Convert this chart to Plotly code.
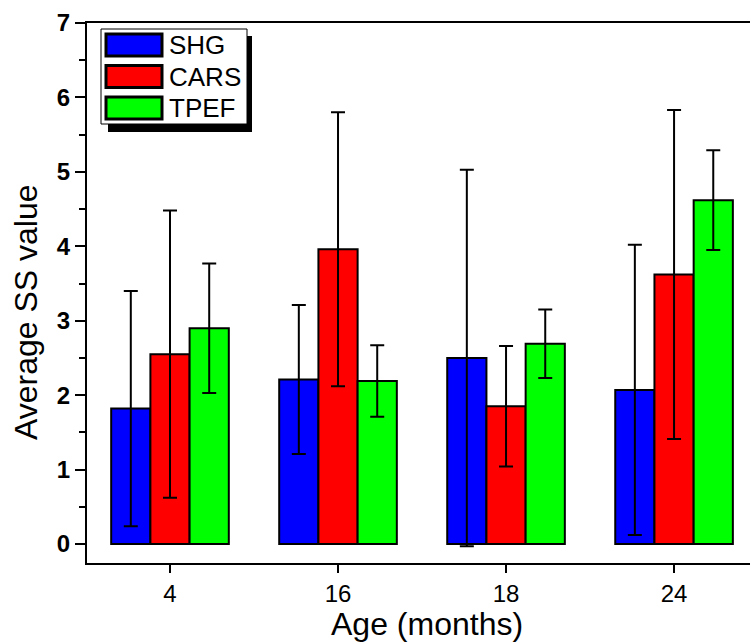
import plotly.graph_objects as go

# ---- data ----
ages = ["4", "16", "18", "24"]
series_names = ["SHG", "CARS", "TPEF"]
shg_mean = [1.82, 2.21, 2.50, 2.07]
shg_err = [1.58, 1.00, 2.53, 1.95]
cars_mean = [2.55, 3.96, 1.85, 3.62]
cars_err = [1.93, 1.84, 0.81, 2.21]
tpef_mean = [2.90, 2.19, 2.69, 4.62]
tpef_err = [0.87, 0.48, 0.46, 0.67]
colors = ["#0000ff", "#ff0000", "#00ff00"]
x_title = "Age (months)"
y_title = "Average SS value"

means = [shg_mean, cars_mean, tpef_mean]
errs = [shg_err, cars_err, tpef_err]
xpos = list(range(len(ages)))

fig = go.Figure()
for name, m, e, c in zip(series_names, means, errs, colors):
    fig.add_trace(go.Bar(
        x=xpos, y=m, name=name,
        marker=dict(color=c, line=dict(color="black", width=2)),
        error_y=dict(type="data", array=e, visible=True, color="black",
                     thickness=2, width=7),
        showlegend=False,
    ))

W, H = 750, 644
L, R, T, B = 87, 0, 23, 81
FONT = "Liberation Sans, Arial, sans-serif"

fig.update_layout(
    width=W, height=H,
    margin=dict(l=L, r=R, t=T, b=B, autoexpand=False),
    paper_bgcolor="white", plot_bgcolor="white",
    barmode="group", bargap=0.3, bargroupgap=0,
    font=dict(family=FONT, color="black"),
)

fig.update_xaxes(
    range=[-0.494, 3.452],
    tickvals=xpos, ticktext=ages,
    ticks="outside", ticklen=8, tickwidth=2, tickcolor="black",
    tickfont=dict(size=24, color="black"),
    showline=True, linecolor="black", linewidth=2, mirror=True,
    showgrid=False, zeroline=False,
)
fig.update_yaxes(
    range=[-0.255, 7],
    tickvals=[0, 1, 2, 3, 4, 5, 6, 7],
    ticks="outside", ticklen=10, tickwidth=2, tickcolor="black",
    tickfont=dict(size=24, color="black", weight="bold"),
    minor=dict(dtick=0.5, ticks="outside", ticklen=6, tickwidth=2, tickcolor="black"),
    showline=True, linecolor="black", linewidth=2, mirror=True,
    showgrid=False, zeroline=False,
)

# ---- pixel -> paper conversion ----
PW = W - L - R
PH = H - T - B

def px_x(x):
    return (x - L) / PW

def px_y(y):
    return (H - B - y) / PH

shapes = []
annotations = []
# axis titles
annotations.append(dict(xref="paper", yref="paper", x=px_x(427), y=px_y(624),
                        text=x_title, showarrow=False, xanchor="center", yanchor="middle",
                        font=dict(size=32, color="black", family=FONT)))
annotations.append(dict(xref="paper", yref="paper", x=px_x(26), y=px_y(312),
                        text=y_title, showarrow=False, xanchor="center", yanchor="middle",
                        textangle=-90,
                        font=dict(size=32, color="black", family=FONT)))
# legend shadow
shapes.append(dict(type="rect", xref="paper", yref="paper",
                   x0=px_x(108), x1=px_x(252), y0=px_y(36), y1=px_y(132),
                   fillcolor="black", line=dict(width=0), layer="above"))
# legend box
shapes.append(dict(type="rect", xref="paper", yref="paper",
                   x0=px_x(101), x1=px_x(247), y0=px_y(29), y1=px_y(124),
                   fillcolor="white", line=dict(color="black", width=1), layer="above"))
for i, (name, c) in enumerate(zip(series_names, colors)):
    y0 = 34 + i * 31.5
    shapes.append(dict(type="rect", xref="paper", yref="paper",
                       x0=px_x(106), x1=px_x(162), y0=px_y(y0), y1=px_y(y0 + 22),
                       fillcolor=c, line=dict(color="black", width=3), layer="above"))
    annotations.append(dict(xref="paper", yref="paper", x=px_x(167), y=px_y(y0 + 11),
                            text=name, showarrow=False, xanchor="left", yanchor="middle",
                            font=dict(size=26, color="black", family=FONT)))
fig.update_layout(shapes=shapes, annotations=annotations)

fig.write_html("out.html")
